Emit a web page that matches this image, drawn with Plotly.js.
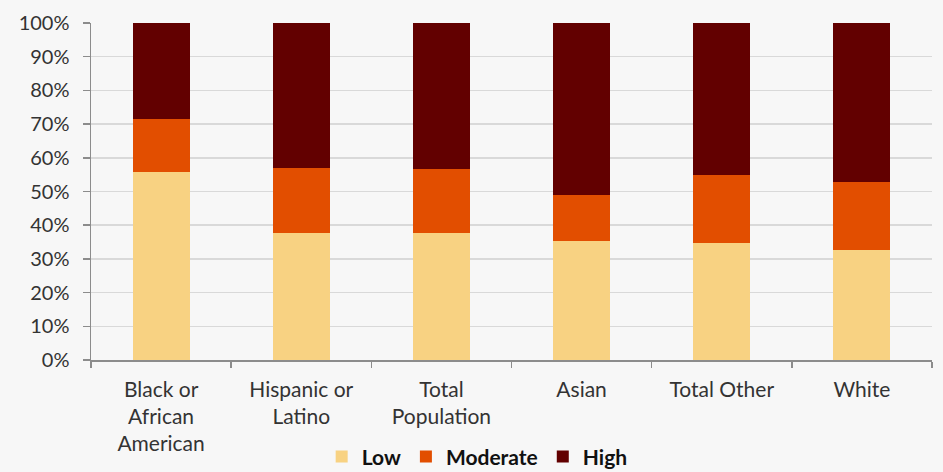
<!DOCTYPE html>
<html>
<head>
<meta charset="utf-8">
<script src="https://cdn.plot.ly/plotly-3.0.1.min.js"></script>
<style>html,body{margin:0;padding:0;background:#fff;}#chart{width:943px;height:472px;}</style>
</head>
<body>
<div id="chart"></div>
<script>
const categories = ["Black or<br>African<br>American", "Hispanic or<br>Latino", "Total<br>Population", "Asian", "Total Other", "White"];
const lowValues = [55.7, 37.6, 37.6, 35.4, 34.8, 32.5];
const moderateValues = [15.7, 19.5, 19.2, 13.6, 20.2, 20.4];
const highValues = [28.6, 42.9, 43.2, 51.0, 45.0, 47.1];
const seriesNames = ["Low", "Moderate", "High"];
const seriesColors = ["#F8D282", "#E24E00", "#620000"];

const seriesValues = [lowValues, moderateValues, highValues];
const traces = seriesValues.map((vals, i) => ({
  type: "bar",
  x: categories,
  y: vals,
  name: seriesNames[i],
  marker: {color: seriesColors[i], line: {width: 0}},
  hoverinfo: "skip"
}));

const layout = {
  width: 943,
  height: 472,
  barmode: "stack",
  bargap: 0.593,
  paper_bgcolor: "#F7F7F7",
  plot_bgcolor: "#F7F7F7",
  margin: {l: 91, r: 11, t: 23, b: 112},
  font: {family: "Lato, 'Open Sans', sans-serif", color: "#333333", size: 20},
  xaxis: {
    type: "category",
    showline: true,
    linecolor: "#8C8C8C",
    linewidth: 1.5,
    ticks: "outside",
    tickson: "boundaries",
    ticklen: 6,
    tickcolor: "#8C8C8C",
    tickwidth: 1.5,
    showgrid: false,
    tickfont: {size: 21, color: "#333333"},
    ticklabelstandoff: 10
  },
  yaxis: {
    range: [0, 100],
    dtick: 10,
    ticksuffix: "%",
    showline: true,
    linecolor: "#8C8C8C",
    linewidth: 1.5,
    ticks: "outside",
    ticklen: 7,
    tickcolor: "#8C8C8C",
    tickwidth: 1.5,
    showgrid: true,
    gridcolor: "#D9D9D9",
    gridwidth: 1.5,
    zeroline: false,
    tickfont: {size: 20, color: "#333333"},
    ticklabelstandoff: 9
  },
  showlegend: true,
  legend: {
    orientation: "h",
    xref: "container",
    yref: "container",
    x: 0.506,
    xanchor: "center",
    y: 0.032,
    yanchor: "middle",
    font: {size: 21, color: "#111111", weight: "bold"},
    itemwidth: 30,
    traceorder: "normal",
    bgcolor: "rgba(0,0,0,0)"
  }
};

Plotly.newPlot("chart", traces, layout, {displayModeBar: false, staticPlot: true});
</script>
</body>
</html>
